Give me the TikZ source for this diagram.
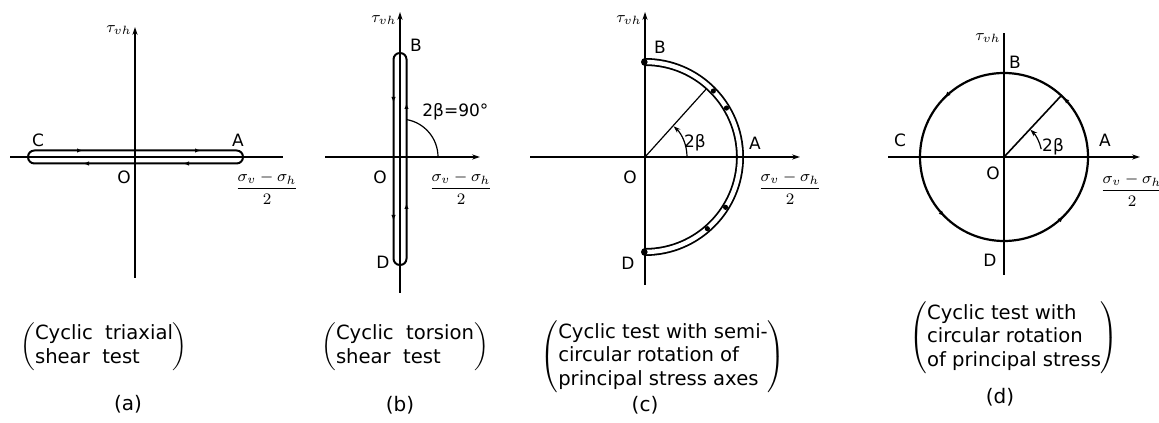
\documentclass[tikz,border=0pt]{standalone}
\usepackage{amsmath}
\usepackage{fontspec}
\setmainfont{DejaVu Sans}
\usetikzlibrary{arrows.meta, positioning, calc, decorations.markings}

\begin{document}
\begin{tikzpicture}[
  x=0.5pt, y=0.5pt,
  axis/.style={line width=0.6pt},
  axarr/.style={axis, -{Stealth[length=4pt, width=2.6pt]}},
  slot/.style={line width=1pt, rounded corners=3.2pt},
  ring/.style={line width=0.9pt, double distance=2.2pt, line cap=round},
  flowmark/.style={line width=0.6pt, -{Latex[length=3pt, width=2.2pt]}},
  lbl/.style={font=\fontsize{8.5}{9}\selectfont, inner sep=1pt},
  axlbl/.style={font=\fontsize{8}{9}\selectfont, inner sep=1pt},
  capt/.style={font=\fontsize{9.8}{11.8}\selectfont, inner sep=0pt},
  sublbl/.style={font=\fontsize{10}{11}\selectfont, inner sep=0pt},
]
\useasboundingbox (0,0) rectangle (1159,422);

% (a) cyclic triaxial
\begin{scope}[shift={(135,265)}]
  \coordinate (Oa) at (0,0);
  \coordinate (a-bot) at (0,-121);
  \coordinate (a-top) at (0,130);
  \coordinate (a-left) at (-125,0);
  \coordinate (a-right) at (148,0);
  \draw[slot] (-107,-6.5) rectangle (108,6.5);
  \draw[axis] (a-left) -- (a-right);
  \draw[axarr] (a-bot) -- (a-top);
  \draw[flowmark] (-58,6.5) -- (-52,6.5);
  \draw[flowmark] (60,6.5) -- (66,6.5);
  \draw[flowmark] (-46,-6.5) -- (-52,-6.5);
  \draw[flowmark] (54,-6.5) -- (48,-6.5);
  \node[lbl] (a-C) at (-97,17) {C};
  \node[lbl] (a-A) at (103,17) {A};
  \node[lbl] (a-O) at (-11,-20) {O};
  \node[axlbl, left] (a-tau) at (-1,127) {$\tau_{vh}$};
  \node[axlbl] (a-frac) at (132,-31) {$\dfrac{\sigma_v-\sigma_h}{2}$};
\end{scope}

% (b) cyclic torsion
\begin{scope}[shift={(400,265)}]
  \coordinate (Ob) at (0,0);
  \coordinate (b-bot) at (0,-136);
  \coordinate (b-top) at (0,145);
  \coordinate (b-left) at (-75,0);
  \coordinate (b-right) at (80,0);
  \draw[slot] (-6.5,-108) rectangle (6.5,104);
  \draw[axarr] (b-left) -- (b-right);
  \draw[axarr] (b-bot) -- (b-top);
  \draw[axis] (38,0) arc[start angle=0, end angle=80, radius=38];
  \draw[flowmark] (-6.5,60) -- (-6.5,54);
  \draw[flowmark] (6.5,48) -- (6.5,54);
  \draw[flowmark] (-6.5,-58) -- (-6.5,-64);
  \draw[flowmark] (6.5,-52) -- (6.5,-46);
  \node[lbl] (b-B) at (16,112) {B};
  \node[lbl] (b-D) at (-17,-105) {D};
  \node[lbl] (b-O) at (-20,-20) {O};
  \node[lbl, anchor=west] (b-ang) at (20,45) {2β=90°};
  \node[axlbl, left] (b-tau) at (-1,137) {$\tau_{vh}$};
  \node[axlbl] (b-frac) at (61,-31) {$\dfrac{\sigma_v-\sigma_h}{2}$};
\end{scope}

% (c) semi-circular rotation
\begin{scope}[shift={(645,265)}]
  \coordinate (Oc) at (0,0);
  \coordinate (c-bot) at (0,-128);
  \coordinate (c-top) at (0,145);
  \coordinate (c-left) at (-115,0);
  \coordinate (c-right) at (155,0);
  \coordinate (c-P) at (48:91);
  \draw[ring] (0,95) arc[start angle=90, end angle=-90, radius=95];
  \draw[axarr] (c-left) -- (c-right);
  \draw[axarr] (c-bot) -- (c-top);
  \draw[axis] (Oc) -- (c-P);
  \draw[axis, -{Stealth[length=3.5pt, width=2.4pt]}] (42,0) arc[start angle=0, end angle=47, radius=42];
  \foreach \ang in {90,44,31,-32,-49,-90}
    \fill (\ang:95) circle[radius=1.3pt];
  \node[lbl] (c-B) at (15,110) {B};
  \node[lbl] (c-A) at (110,14) {A};
  \node[lbl] (c-D) at (-17,-106) {D};
  \node[lbl] (c-O) at (-15,-20) {O};
  \node[lbl] (c-ang) at (50,14) {2β};
  \node[axlbl, left] (c-tau) at (-1,137) {$\tau_{vh}$};
  \node[axlbl] (c-frac) at (145,-31) {$\dfrac{\sigma_v-\sigma_h}{2}$};
\end{scope}

% (d) circular rotation
\begin{scope}[shift={(1004,265)}]
  \coordinate (Od) at (0,0);
  \coordinate (d-bot) at (0,-118);
  \coordinate (d-top) at (0,124);
  \coordinate (d-left) at (-116,0);
  \coordinate (d-right) at (136,0);
  \coordinate (d-P) at (47:84);
  \draw[line width=1.1pt, postaction={decorate}, decoration={markings,
      mark=at position 0.125 with {\arrow{Latex[length=3pt, width=2.4pt]}},
      mark=at position 0.375 with {\arrow{Latex[length=3pt, width=2.4pt]}},
      mark=at position 0.625 with {\arrow{Latex[length=3pt, width=2.4pt]}},
      mark=at position 0.875 with {\arrow{Latex[length=3pt, width=2.4pt]}}}]
    (Od) circle[radius=84];
  \draw[axarr, line width=0.9pt] (d-left) -- (d-right);
  \draw[axis, line width=0.8pt] (d-bot) -- (d-top);
  \draw[axis, line width=0.8pt] (Od) -- (d-P);
  \draw[axis, -{Stealth[length=3.5pt, width=2.4pt]}] (12:38) arc[start angle=12, end angle=46, radius=38];
  \node[lbl] (d-C) at (-104,17) {C};
  \node[lbl] (d-A) at (101,17) {A};
  \node[lbl] (d-B) at (11,95) {B};
  \node[lbl] (d-D) at (-14,-103) {D};
  \node[lbl] (d-O) at (-11,-16) {O};
  \node[lbl] (d-ang) at (49,10) {2β};
  \node[axlbl, left] (d-tau) at (-1,119) {$\tau_{vh}$};
  \node[axlbl] (d-frac) at (128,-33) {$\dfrac{\sigma_v-\sigma_h}{2}$};
\end{scope}

% captions
\node[capt] (capA) at (104,75)
  {$\left(\begin{tabular}{@{}l@{}}Cyclic\ \ triaxial\\ shear\ \ test\end{tabular}\right)$};
\node[capt] (capB) at (405,75)
  {$\left(\begin{tabular}{@{}l@{}}Cyclic\ \ torsion\\ shear\ \ test\end{tabular}\right)$};
\node[capt] (capC) at (663,65)
  {$\left(\begin{tabular}{@{}l@{}}Cyclic test with semi-\\ circular rotation of\\ principal stress axes\end{tabular}\right)$};
\node[capt] (capD) at (1014,84)
  {$\left(\begin{tabular}{@{}l@{}}Cyclic test with\\ circular rotation\\ of principal stress\end{tabular}\right)$};
\node[sublbl] (subA) at (128,18) {(a)};
\node[sublbl] (subB) at (400,17) {(b)};
\node[sublbl] (subC) at (645,17) {(c)};
\node[sublbl] (subD) at (1000,25) {(d)};
\end{tikzpicture}
\end{document}
